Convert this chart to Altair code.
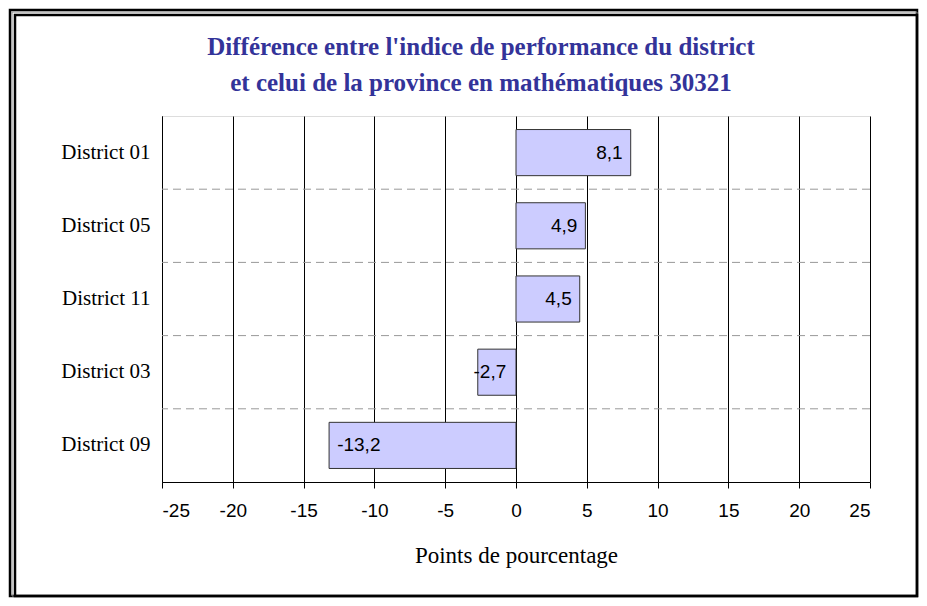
import altair as alt
import pandas as pd

districts = ["District 01", "District 05", "District 11", "District 03", "District 09"]
values = [8.1, 4.9, 4.5, -2.7, -13.2]
labels = ["8,1", "4,9", "4,5", "-2,7", "-13,2"]
tick_values = [-25, -20, -15, -10, -5, 0, 5, 10, 15, 20, 25]

title_lines = ["Différence entre l'indice de performance du district",
               "et celui de la province en mathématiques 30321"]
x_title = "Points de pourcentage"

df = pd.DataFrame({"district": districts, "value": values, "label": labels})
one = pd.DataFrame({"f": [0]})

x_scale = alt.Scale(domain=[-25, 25], nice=False, zero=False)
y_scale = alt.Scale(domain=districts, paddingInner=0, paddingOuter=0)

x_enc = alt.X(
    "value:Q", scale=x_scale, title=x_title,
    axis=alt.Axis(values=tick_values, labelExpr="'' + datum.value",
                  grid=True, gridColor="black", gridWidth=1,
                  gridOpacity=1, domainColor="black", tickColor="black", tickSize=6,
                  labelFont="Liberation Sans", labelFontSize=19, labelColor="black",
                  labelPadding=13, titleFont="Liberation Serif", titleFontSize=23,
                  titleFontWeight="normal", titleColor="black", titlePadding=24),
)
y_enc = alt.Y(
    "district:N", scale=y_scale, title=None, sort=districts,
    axis=alt.Axis(ticks=False, grid=False, domainColor="black",
                  labelFont="Liberation Serif", labelFontSize=21, labelColor="black",
                  labelPadding=12),
)

base = alt.Chart(df)

sep = base.transform_filter(alt.datum.district != districts[0]).mark_rule(
    color="#999999", strokeDash=[8, 5], strokeWidth=1
).encode(y=alt.Y("district:N", scale=y_scale, sort=districts, bandPosition=0))

bars = base.mark_bar(fill="#CCCCFF", stroke="#333333", strokeWidth=1,
                     height=alt.RelativeBandSize(0.63)).encode(
    x=x_enc, x2=alt.datum(0), y=y_enc
)

pos_text = base.transform_filter("datum.value >= 0").mark_text(
    align="right", baseline="middle", dx=-8, font="Liberation Sans", fontSize=19,
    color="black"
).encode(x=alt.X("value:Q", scale=x_scale), y=alt.Y("district:N", scale=y_scale, sort=districts),
         text="label:N")

neg_text = base.transform_filter("datum.value < 0").transform_calculate(
    lx="min(datum.value + 0.57, -3)"
).mark_text(
    align="left", baseline="middle", font="Liberation Sans", fontSize=19, color="black"
).encode(x=alt.X("lx:Q", scale=x_scale), y=alt.Y("district:N", scale=y_scale, sort=districts),
         text="label:N")

title1 = alt.Chart(one).mark_text(
    font="Liberation Serif", fontSize=25, fontWeight="bold", color="#333399",
    align="center", baseline="middle"
).encode(x=alt.value(319), y=alt.value(-69), text=alt.value(title_lines[0]))
title2 = alt.Chart(one).mark_text(
    font="Liberation Serif", fontSize=25, fontWeight="bold", color="#333399",
    align="center", baseline="middle"
).encode(x=alt.value(319), y=alt.value(-33), text=alt.value(title_lines[1]))

outer = alt.Chart(one).mark_rect(fillOpacity=0, stroke="black", strokeWidth=2.5).encode(
    x=alt.value(-152), x2=alt.value(755), y=alt.value(-106), y2=alt.value(480)
)
mid = alt.Chart(one).mark_rect(fillOpacity=0, stroke="#888888", strokeWidth=1).encode(
    x=alt.value(-150), x2=alt.value(755), y=alt.value(-104), y2=alt.value(480)
)
inner = alt.Chart(one).mark_rect(fillOpacity=0, stroke="black", strokeWidth=2.5).encode(
    x=alt.value(-147), x2=alt.value(755), y=alt.value(-101), y2=alt.value(480)
)

chart = alt.layer(sep, bars, pos_text, neg_text, title1, title2, outer, mid, inner).properties(
    width=708, height=366,
    autosize=alt.AutoSizeParams(type="none"),
    padding={"left": 154, "top": 108, "right": 49, "bottom": 116},
).configure_view(stroke="black", strokeWidth=1).configure(background="white")

chart.save("out.html", embed_options={"renderer": "svg", "actions": False})
